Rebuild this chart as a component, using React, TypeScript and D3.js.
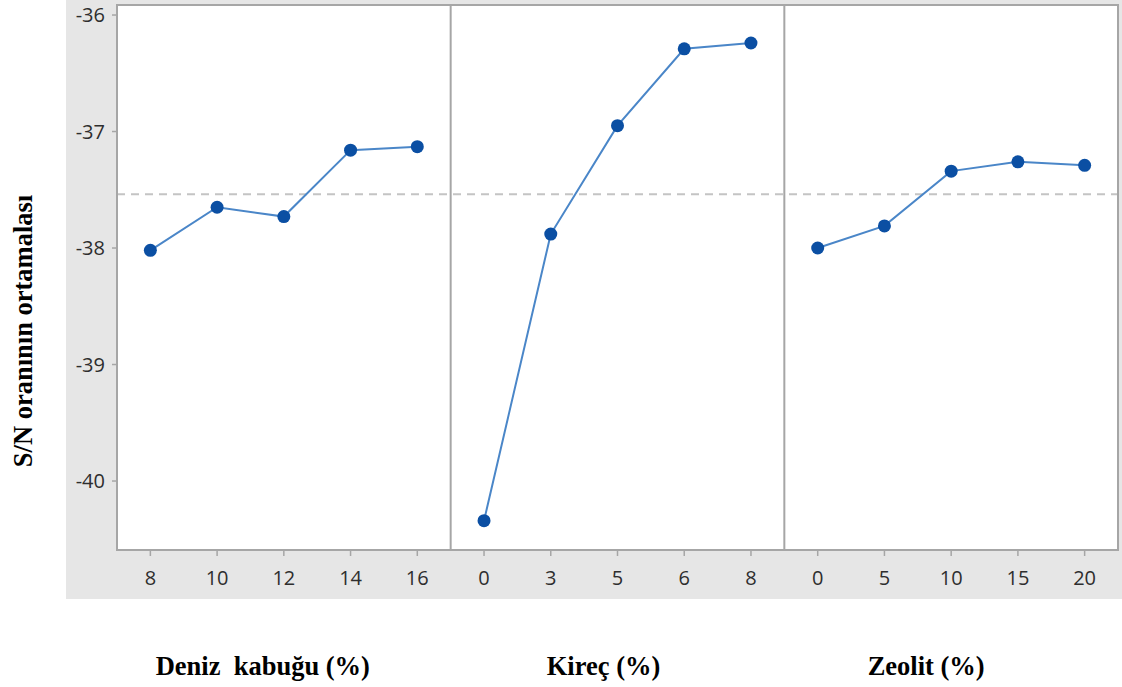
import React from "react";
import * as d3 from "d3";

const panelTitles = ["Deniz  kabuğu (%)", "Kireç (%)", "Zeolit (%)"];
const levels1 = ["8", "10", "12", "14", "16"];
const levels2 = ["0", "3", "5", "6", "8"];
const levels3 = ["0", "5", "10", "15", "20"];
const values1 = [-38.02, -37.65, -37.73, -37.16, -37.13];
const values2 = [-40.34, -37.88, -36.95, -36.29, -36.24];
const values3 = [-38.0, -37.81, -37.34, -37.26, -37.29];
const yTicks = [-36, -37, -38, -39, -40];
const yLabel = "S/N oranının ortamalası";

const W = 1122;
const H = 687;
const left = 117;
const right = 1118;
const top = 5;
const bottom = 550;
const titleShift = [-21, -14, -25];

export default function App() {
  const panels = [
    { levels: levels1, values: values1, title: panelTitles[0] },
    { levels: levels2, values: values2, title: panelTitles[1] },
    { levels: levels3, values: values3, title: panelTitles[2] },
  ];
  const allVals = [...values1, ...values2, ...values3];
  const mean = d3.mean(allVals) as number;
  const y = d3.scaleLinear().domain([-40.592, -35.914]).range([bottom, top]);
  const panelScale = d3.scaleBand<number>().domain([0, 1, 2]).range([left, right]).padding(0);
  const pw = panelScale.bandwidth();
  const tickFont = "'Open Sans', 'DejaVu Sans', sans-serif";
  const serif = "'Liberation Serif', 'Times New Roman', serif";

  return (
    <svg width={W} height={H} style={{ position: "absolute", left: 0, top: 0, background: "#fff" }}>
      <rect x={66} y={0} width={W - 66} height={599} fill="#e6e6e6" />
      <rect x={left} y={top} width={right - left} height={bottom - top} fill="#fff" />
      <line x1={left} x2={right} y1={y(mean)} y2={y(mean)} stroke="#c4c4c4" strokeWidth={2} strokeDasharray="8,6" />
      {panels.map((p, i) => {
        const x0 = panelScale(i) as number;
        const x = d3.scalePoint<string>().domain(p.levels).range([x0, x0 + pw]).padding(0.5);
        const line = d3
          .line<number>()
          .x((_, k) => x(p.levels[k]) as number)
          .y((v) => y(v));
        return (
          <g key={i}>
            {i > 0 && <line x1={x0} x2={x0} y1={top} y2={bottom} stroke="#a6a6a6" strokeWidth={2} />}
            <path d={line(p.values) || ""} fill="none" stroke="#4a86c8" strokeWidth={2} />
            {p.values.map((v, k) => (
              <circle key={k} cx={x(p.levels[k])} cy={y(v)} r={6.5} fill="#0b4fa3" />
            ))}
            {p.levels.map((l) => (
              <g key={l}>
                <line x1={x(l)} x2={x(l)} y1={bottom + 1} y2={bottom + 6} stroke="#a6a6a6" strokeWidth={1.5} />
                <text x={x(l)} y={585} textAnchor="middle" fontFamily={tickFont} fontSize={20} fill="#2e2e2e">
                  {l}
                </text>
              </g>
            ))}
            <text
              x={x0 + pw / 2 + titleShift[i]}
              y={675}
              textAnchor="middle"
              fontFamily={serif}
              fontWeight="bold"
              fontSize={26.5}
              fill="#000"
              style={{ whiteSpace: "pre" }}
            >
              {p.title}
            </text>
          </g>
        );
      })}
      {yTicks.map((t) => (
        <g key={t}>
          <line x1={left - 5} x2={left} y1={y(t)} y2={y(t)} stroke="#a6a6a6" strokeWidth={1.5} />
          <text x={left - 12} y={y(t) + 7} textAnchor="end" fontFamily={tickFont} fontSize={20} fill="#2e2e2e">
            {t}
          </text>
        </g>
      ))}
      <rect x={left} y={top} width={right - left} height={bottom - top} fill="none" stroke="#a6a6a6" strokeWidth={2} />
      <text
        transform={`translate(32, 331) rotate(-90)`}
        textAnchor="middle"
        fontFamily={serif}
        fontWeight="bold"
        fontSize={26.5}
        fill="#000"
      >
        {yLabel}
      </text>
    </svg>
  );
}
